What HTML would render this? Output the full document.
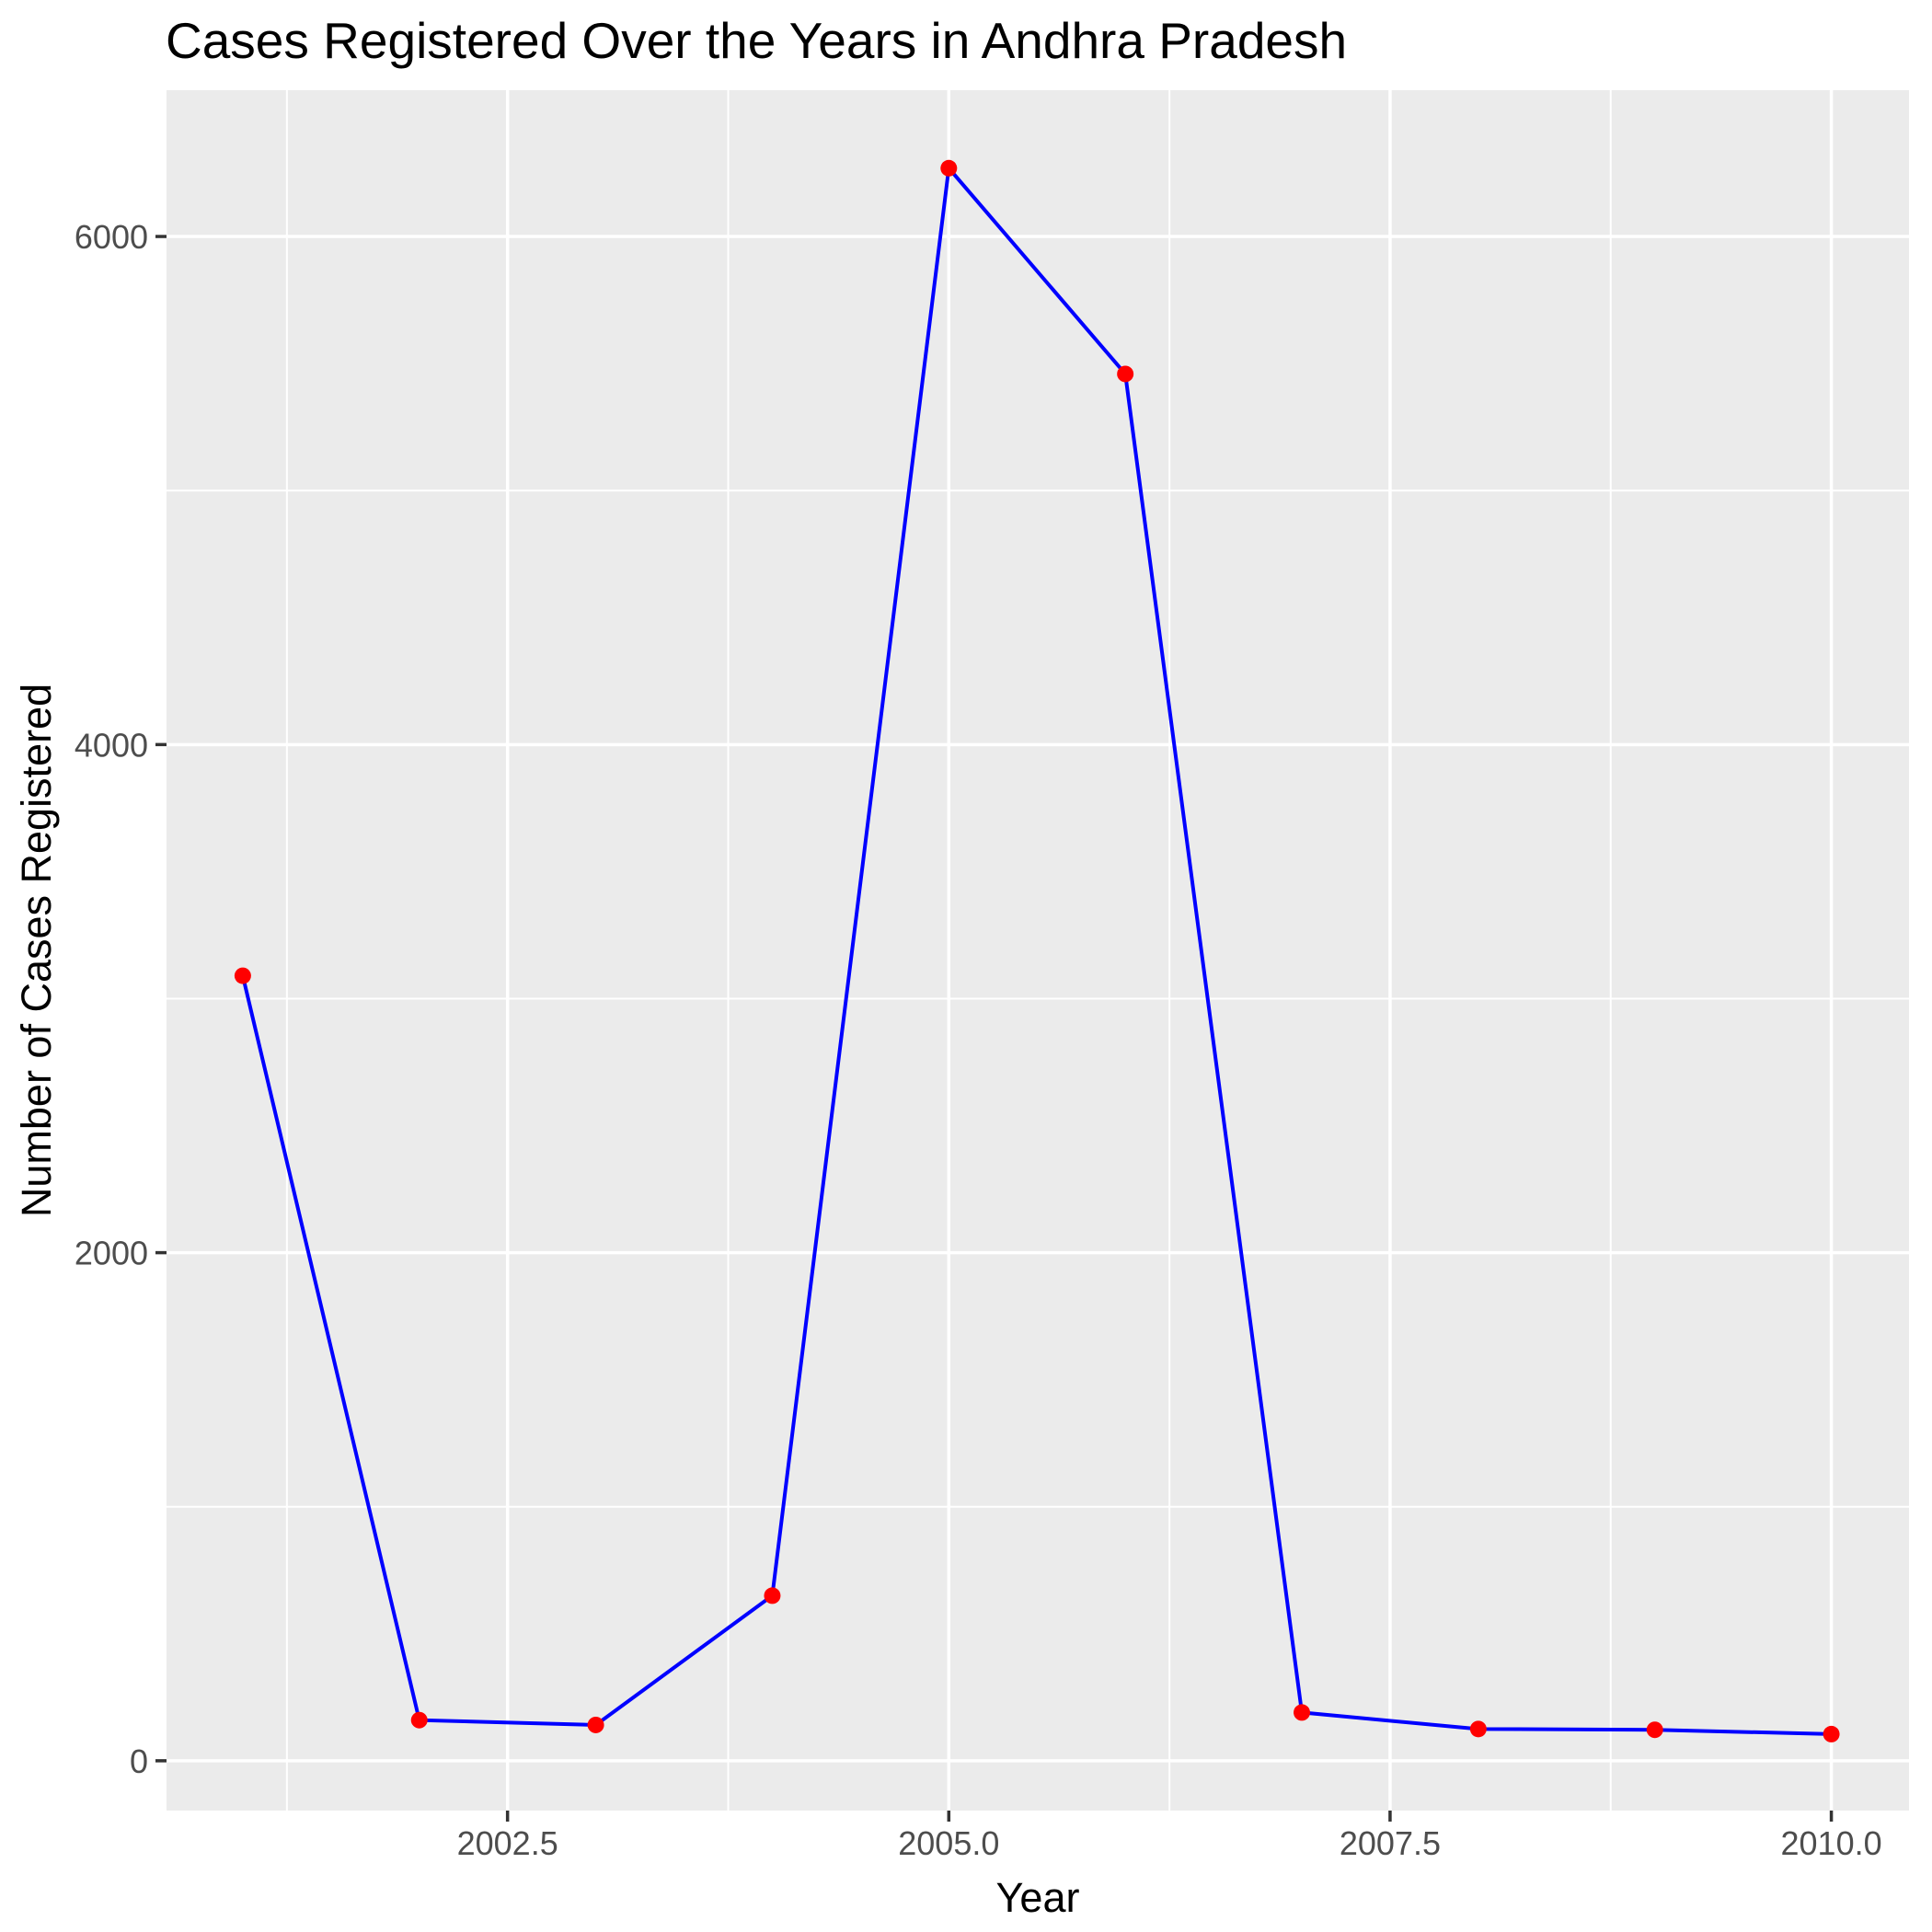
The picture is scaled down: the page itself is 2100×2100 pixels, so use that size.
<!DOCTYPE html>
<html><head><meta charset="utf-8"><style>body{margin:0;background:#fff}svg{display:block}</style></head>
<body>
<svg id="chart" width="2100" height="2100" viewBox="0 0 2100 2100" xmlns="http://www.w3.org/2000/svg" font-family="'Liberation Sans', sans-serif">
<rect width="2100" height="2100" fill="#fff"/>
<rect x="181" y="98" width="1894" height="1870" fill="#EBEBEB"/>
<g id="grid"></g>
<g id="series"></g>
<g id="axes"></g>
<text x="180" y="63" font-size="55" fill="#000">Cases Registered Over the Years in Andhra Pradesh</text>
<text x="1128" y="2078" font-size="45" text-anchor="middle" fill="#000">Year</text>
<text transform="translate(55,1033) rotate(-90)" font-size="45" text-anchor="middle" fill="#000">Number of Cases Registered</text>
</svg>
<script>
const years = [2001,2002,2003,2004,2005,2006,2007,2008,2009,2010];
const cases = [3090,160,141,650,6269,5459,190,125,122,105];
const xTicks = [2002.5,2005.0,2007.5,2010.0];
const xTickLabels = ["2002.5","2005.0","2007.5","2010.0"];
const xMinor = [2001.25,2003.75,2006.25,2008.75];
const yTicks = [0,2000,4000,6000];
const yTickLabels = ["0","2000","4000","6000"];
const yMinor = [1000,3000,5000];

const PL=181,PR=2075,PT=98,PB=1968;
const xMin=2000.568,xMax=2010.44,yMin=-196,yMax=6576;
const sx=v=>PL+(v-xMin)/(xMax-xMin)*(PR-PL);
const sy=v=>PB-(v-yMin)/(yMax-yMin)*(PB-PT);
const NS="http://www.w3.org/2000/svg";
function mk(tag,attrs,parent){const e=document.createElementNS(NS,tag);for(const k in attrs)e.setAttribute(k,attrs[k]);parent.appendChild(e);return e;}
const grid=document.getElementById('grid'),series=document.getElementById('series'),axes=document.getElementById('axes');
xMinor.forEach(v=>{const l=mk('line',{x1:sx(v),x2:sx(v),y1:PT,y2:PB,stroke:'#fff','stroke-width':2},grid);

});
yMinor.forEach(v=>{const l=mk('line',{x1:PL,x2:PR,y1:sy(v),y2:sy(v),stroke:'#fff','stroke-width':2},grid);

});
xTicks.forEach((v,i)=>{const l=mk('line',{x1:sx(v),x2:sx(v),y1:PT,y2:PB,stroke:'#fff','stroke-width':3.5},grid);


const t=mk('line',{x1:sx(v),x2:sx(v),y1:PB,y2:PB+12,stroke:'#333','stroke-width':3.5},axes);


const tx=mk('text',{x:sx(v),y:2016,'font-size':36,'text-anchor':'middle',fill:'#4D4D4D'},axes);
tx.textContent=xTickLabels[i];

});
yTicks.forEach((v,i)=>{const l=mk('line',{x1:PL,x2:PR,y1:sy(v),y2:sy(v),stroke:'#fff','stroke-width':3.5},grid);


const t=mk('line',{x1:PL-12,x2:PL,y1:sy(v),y2:sy(v),stroke:'#333','stroke-width':3.5},axes);


const tx=mk('text',{x:PL-20,y:sy(v)+13,'font-size':36,'text-anchor':'end',fill:'#4D4D4D'},axes);
tx.textContent=yTickLabels[i];

});
const pl=mk('polyline',{points:years.map((y,i)=>sx(y)+','+sy(cases[i])).join(' '),fill:'none',stroke:'#0000FF','stroke-width':4},series);


years.forEach((y,i)=>{const c=mk('circle',{cx:sx(y),cy:sy(cases[i]),r:9,fill:'#FF0000'},series);

});
</script>
</body></html>
